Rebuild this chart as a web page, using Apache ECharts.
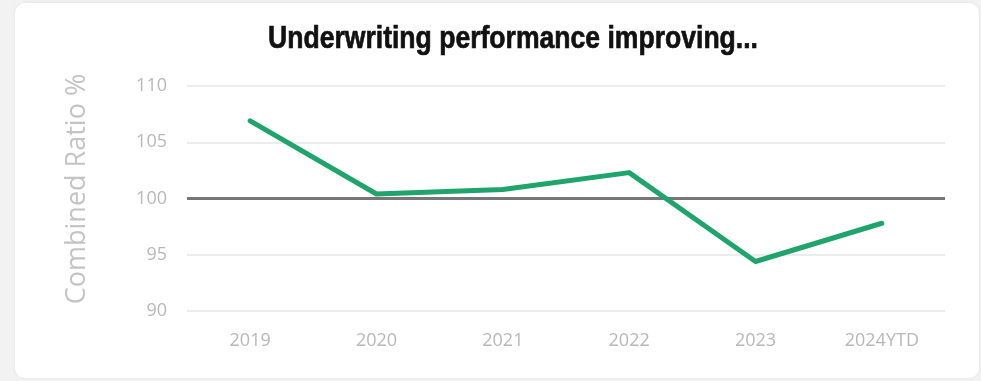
<!DOCTYPE html>
<html>
<head>
<meta charset="utf-8">
<style>
  html, body { margin: 0; padding: 0; background: #f2f2f2; }
  #chart { width: 981px; height: 381px; }
</style>
<script src="https://cdn.jsdelivr.net/npm/echarts@6/dist/echarts.min.js"></script>
</head>
<body>
<div id="chart"></div>
<script>
// Combined ratio by year
const years = ['2019', '2020', '2021', '2022', '2023', '2024YTD'];
const combinedRatio = [106.9, 100.4, 100.8, 102.3, 94.4, 97.8];
const yTicks = { min: 90, max: 110, interval: 5 };
const breakEven = 100;
const titleText = 'Underwriting performance improving...';
const yAxisTitle = 'Combined Ratio %';

const chart = echarts.init(document.getElementById('chart'), null, { renderer: 'canvas' });

chart.setOption({
  backgroundColor: '#f2f2f2',
  animation: false,
  graphic: [
    {
      // white card behind the chart
      type: 'rect',
      z: -10,
      shape: { x: 15, y: 3, width: 964, height: 375, r: 10 },
      style: { fill: '#ffffff', shadowBlur: 4, shadowColor: 'rgba(0,0,0,0.06)' },
      silent: true
    },
    {
      // condensed headline
      type: 'text',
      x: 513,
      y: 23,
      scaleX: 0.83,
      silent: true,
      style: {
        text: titleText,
        textAlign: 'center',
        textVerticalAlign: 'top',
        fontFamily: '"Liberation Sans", Arial, sans-serif',
        fontWeight: 'bold',
        fontSize: 32,
        fill: '#111111',
        stroke: '#111111',
        lineWidth: 0.7
      }
    },
    {
      // vertical axis title
      type: 'text',
      x: 77,
      y: 189,
      rotation: Math.PI / 2,
      silent: true,
      style: {
        text: yAxisTitle,
        textAlign: 'center',
        textVerticalAlign: 'middle',
        fontFamily: '"Open Sans", sans-serif',
        fontSize: 27,
        fill: '#c4c4c4'
      }
    }
  ],
  grid: { left: 187, right: 36, top: 86, bottom: 70, containLabel: false },
  xAxis: {
    type: 'category',
    data: years,
    boundaryGap: true,
    axisLine: { show: false },
    axisTick: { show: false },
    axisLabel: {
      margin: 21,
      fontFamily: '"Open Sans", sans-serif',
      fontSize: 18,
      color: '#b8b8b8'
    }
  },
  yAxis: {
    type: 'value',
    min: yTicks.min,
    max: yTicks.max,
    interval: yTicks.interval,
    axisLine: { show: false },
    axisTick: { show: false },
    axisLabel: {
      margin: 20,
      fontFamily: '"Open Sans", sans-serif',
      fontSize: 18,
      color: '#b8b8b8'
    },
    splitLine: { lineStyle: { color: '#e6e6e6', width: 1.5 } }
  },
  series: [{
    type: 'line',
    data: combinedRatio,
    showSymbol: false,
    symbol: 'none',
    lineStyle: { color: '#1fa46c', width: 5, cap: 'round', join: 'round' },
    z: 3,
    markLine: {
      silent: true,
      symbol: 'none',
      label: { show: false },
      lineStyle: { color: '#777777', width: 3, type: 'solid' },
      data: [{ yAxis: breakEven }],
      z: 2
    }
  }]
});
</script>
</body>
</html>
